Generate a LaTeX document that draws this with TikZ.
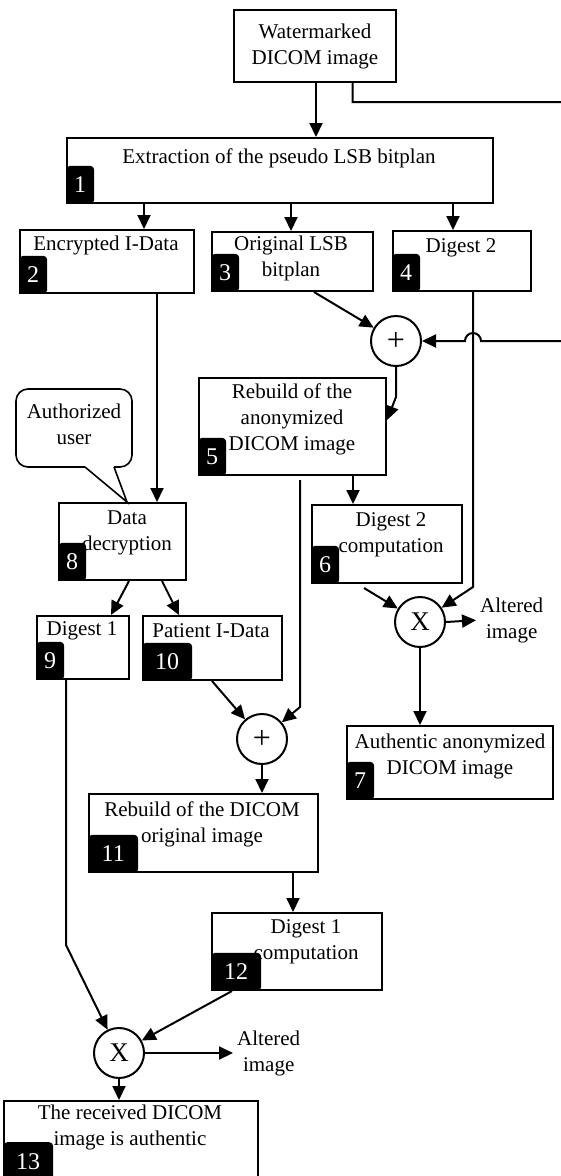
\documentclass[tikz,border=0pt]{standalone}
\usepackage{fontspec}
\setmainfont{Liberation Serif}
\usetikzlibrary{arrows.meta,calc}
\tikzset{
  box/.style={draw=black, line width=2pt, anchor=north west, inner sep=0pt},
  txt/.style={align=center, inner sep=0pt, font=\fontsize{21}{26}\selectfont},
  badge/.style={fill=black, text=white, rounded corners=4pt, anchor=south west,
    minimum width=28pt, minimum height=38pt, inner sep=0pt,
    font=\fontsize{24}{26}\selectfont},
  badge-wide/.style={badge, minimum width=50pt},
  op/.style={circle, draw=black, line width=2pt, minimum size=50pt, inner sep=0pt},
  link/.style={line width=2pt, -{Triangle[length=14pt,width=13pt]}},
  wire/.style={line width=1.6pt}
}

\begin{document}
\begin{tikzpicture}[x=1pt, y=-1pt]
  \useasboundingbox (0,0) rectangle (560,1176);

  % source image
  \node[box, txt, minimum width=162pt, minimum height=72pt] (wm) at (233,9) {Watermarked\\DICOM image};

  % step boxes, text and numbers
  \node[box, minimum width=426pt, minimum height=65pt] (b1) at (66,137) {};
  \node[txt] (b1-t) at (279,158) {Extraction of the pseudo LSB bitplan};
  \node[badge] (b1-n) at (b1.south west) {1};

  \node[box, minimum width=174pt, minimum height=63pt] (b2) at (19,229) {};
  \node[txt] (b2-t) at (106,245) {Encrypted I-Data};
  \node[badge] (b2-n) at (b2.south west) {2};

  \node[box, minimum width=161pt, minimum height=59pt] (b3) at (211,231) {};
  \node[txt] (b3-t) at (291,258) {Original LSB\\bitplan};
  \node[badge] (b3-n) at (b3.south west) {3};

  \node[box, minimum width=138pt, minimum height=60pt] (b4) at (392,230) {};
  \node[txt] (b4-t) at (461,248) {Digest 2};
  \node[badge] (b4-n) at (b4.south west) {4};

  \node[box, minimum width=187pt, minimum height=97pt] (b5) at (198,377) {};
  \node[txt] (b5-t) at (292,419) {Rebuild of the\\anonymized\\DICOM image};
  \node[badge] (b5-n) at (b5.south west) {5};

  \node[box, minimum width=150pt, minimum height=78pt] (b6) at (311,504) {};
  \node[txt] (b6-t) at (391,535) {Digest 2\\computation};
  \node[badge] (b6-n) at (b6.south west) {6};

  \node[box, minimum width=206pt, minimum height=73pt] (b7) at (346,725) {};
  \node[txt] (b7-t) at (450,756) {Authentic anonymized\\DICOM image};
  \node[badge] (b7-n) at (b7.south west) {7};

  \node[box, minimum width=127pt, minimum height=77pt] (b8) at (58,502) {};
  \node[txt] (b8-t) at (127,533) {Data\\decryption};
  \node[badge] (b8-n) at (b8.south west) {8};

  \node[box, minimum width=92pt, minimum height=63pt] (b9) at (36,615) {};
  \node[txt] (b9-t) at (82,631) {Digest 1};
  \node[badge] (b9-n) at (b9.south west) {9};

  \node[box, minimum width=139pt, minimum height=64pt] (b10) at (142,615) {};
  \node[txt] (b10-t) at (211,631) {Patient I-Data};
  \node[badge-wide] (b10-n) at (b10.south west) {10};

  \node[box, minimum width=229pt, minimum height=78pt] (b11) at (88,793) {};
  \node[txt] (b11-t) at (202,824) {Rebuild of the DICOM\\original image};
  \node[badge-wide] (b11-n) at (b11.south west) {11};

  \node[box, minimum width=170pt, minimum height=77pt] (b12) at (211,912) {};
  \node[txt] (b12-t) at (306,942) {Digest 1\\computation};
  \node[badge-wide] (b12-n) at (b12.south west) {12};

  \node[box, minimum width=254pt, minimum height=90pt] (b13) at (3,1100) {};
  \node[txt] (b13-t) at (130,1127) {The received DICOM\\image is authentic};
  \node[badge-wide, anchor=north west] (b13-n) at (3,1142) {13};

  % operators
  \node[op, font=\fontsize{32}{32}\selectfont] (p1) at (396,341) {+};
  \node[op, font=\fontsize{32}{32}\selectfont] (p2) at (262,739) {+};
  \node[op, font=\fontsize{27}{27}\selectfont] (x1) at (420,622) {X};
  \node[op, font=\fontsize{27}{27}\selectfont] (x2) at (119,1053) {X};
  \node[txt, anchor=west] (alt1) at (480,620) {Altered\\image};
  \node[txt, anchor=west] (alt2) at (237,1053) {Altered\\image};

  % callout
  \node[txt] (user) at (74,424) {Authorized\\user};
  \draw[wire, rounded corners=12pt] (85,467) -- (16,467) -- (16,389) -- (132,389) -- (132,467) -- (114,467);
  \draw[wire] (85,467) -- (b8.north -| 127,0) -- (114,467);

  % connectors
  \draw[link] (wm.south -| 316,0) -- (b1.north -| 316,0);
  \draw[link] (wm.south -| 352.5,0) -- (352.5,102) -- (566,102) -- (566,341) -- (481,341)
    arc[start angle=0, end angle=180, radius=8pt] -- (p1.east);
  \draw[link] (b1.south -| 144,0) -- (b2.north -| 144,0);
  \draw[link] (b1.south -| 291,0) -- (b3.north -| 291,0);
  \draw[link] (b1.south -| 453,0) -- (b4.north -| 453,0);
  \draw[link] (b3.south -| 314,0) -- (p1);
  \draw[link] (b4.south -| 473,0) -- (473,587) -- (x1);
  \draw[link] (p1.south) -- (396,397) -- (b5.east |- 0,420);
  \draw[link] (b2.south -| 157,0) -- (b8.north -| 157,0);
  \draw[link] (b5.south -| 353,0) -- (b6.north -| 353,0);
  \draw[link] ($(b5.south -| 300,0)+(0,4)$) -- (300,707) -- (p2);
  \draw[link] ($(b6.south -| 364,0)+(0,4)$) -- (x1);
  \draw[link, shorten >=4pt] (x1.east) -- (alt1.west);
  \draw[link] (x1.south) -- (b7.north -| x1.south);
  \draw[link] (b8.south -| 129,0) -- (b9.north -| 111,0);
  \draw[link] (b8.south -| 162,0) -- (b10.north -| 179,0);
  \draw[link] (b10.south -| 212,0) -- (p2);
  \draw[link] (p2.south) -- (b11.north -| p2.south);
  \draw[link] (b11.south -| 293,0) -- (b12.north -| 293,0);
  \draw[link] (b9.south -| 66,0) -- (66,945) -- (x2);
  \draw[link] (b12.south -| 232,0) -- (x2);
  \draw[link, shorten >=4pt] (x2.east) -- (alt2.west);
  \draw[link] (x2.south) -- (b13.north -| x2.south);

\end{tikzpicture}
\end{document}
